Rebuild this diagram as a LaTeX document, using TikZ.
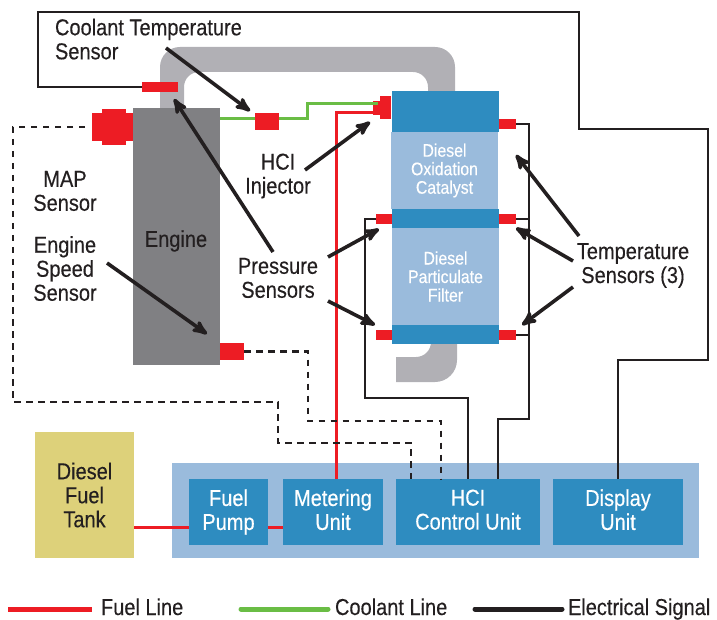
\documentclass[tikz,border=0pt]{standalone}
\usepackage{fontspec}
\setmainfont[FakeStretch=0.87,FakeBold=0.3]{Liberation Sans}
\usepackage{tikz}
\usetikzlibrary{arrows}
\definecolor{sensorred}{HTML}{ED1C24}
\definecolor{coolgreen}{HTML}{6ABD45}
\definecolor{darkblue}{HTML}{2E8CC0}
\definecolor{paleblue}{HTML}{9ABBDC}
\definecolor{pipegray}{HTML}{B1B0B5}
\definecolor{enginegray}{HTML}{808083}
\definecolor{tankyellow}{HTML}{DDD17A}
\definecolor{inkblack}{HTML}{231F20}

\begin{document}
\begin{tikzpicture}[x=1pt,y=-1pt,>=stealth',auto,semithick,text=inkblack]
\tikzstyle{every node}=[font=\fontsize{23}{24}\selectfont,align=center,inner sep=0pt,outer sep=0pt]
\tikzstyle{block}=[fill=darkblue,minimum width=107pt]
\tikzstyle{pale}=[fill=paleblue,minimum width=107pt,text=white,font=\fontsize{18.2}{18.5}\selectfont]
\tikzstyle{unit}=[fill=darkblue,minimum height=66pt,text=white]
\tikzstyle{sensor}=[fill=sensorred,minimum width=17pt,minimum height=10pt]
\tikzstyle{fuel}=[draw=sensorred,line width=3pt]
\tikzstyle{coolant}=[draw=coolgreen,line width=3pt]
\tikzstyle{elec}=[draw=inkblack,line width=2.7pt]
\tikzstyle{signal}=[draw=inkblack,line width=2.7pt,dash pattern=on 6.5pt off 5.5pt]
\tikzstyle{pointer}=[draw=inkblack,line width=3.6pt]
\useasboundingbox (0,0) rectangle (717,620);
% pipe
\fill[pipegray] (160,110) [rounded corners=20pt] -- (160,47) -- (455,47) [sharp corners] -- (455,95) -- (428,95)
   [rounded corners=15pt] -- (428,72) -- (184,72) [sharp corners] -- (184,110) -- cycle;
\fill[pipegray] (431,340) -- (457,340) [rounded corners=22pt] -- (457,382) [sharp corners] -- (396,382) -- (396,357)
   [rounded corners=15pt] -- (431,357) [sharp corners] -- cycle;
% blocks
\node[fill=enginegray,minimum width=87pt,minimum height=257pt] (Engine) at (176.5,236.5) {};
\node at (176,241) {Engine};
\node[block,minimum height=41pt] (DocTop) at (445.5,111.5) {};
\node[pale,minimum height=77pt] (Doc) at (444.5,170.5) {Diesel\\Oxidation\\Catalyst};
\node[block,minimum height=19pt] (DocMid) at (445.5,218.5) {};
\node[pale,minimum height=97pt] (Dpf) at (445.5,276.5) {Diesel\\Particulate\\Filter};
\node[block,minimum height=19pt] (DpfEnd) at (445.5,334.5) {};
\node[fill=tankyellow,minimum width=99pt,minimum height=126pt] (Tank) at (84.5,495) {Diesel\\Fuel\\Tank};
\node[fill=paleblue,minimum width=527pt,minimum height=95pt] (Panel) at (435.5,510.5) {};
\node[unit,minimum width=78.5pt] (Pump) at (228.5,512) {Fuel\\Pump};
\node[unit,minimum width=100pt,right of=Pump,node distance=104.5pt] (Meter) {Metering\\Unit\vphantom{p}};
\node[unit,minimum width=144pt,right of=Meter,node distance=135pt] (Hci) {HCI\\Control Unit\vphantom{p}};
\node[unit,minimum width=130pt,right of=Hci,node distance=150pt] (Display) {Display\\Unit\vphantom{p}};
% sensors
\node[sensor,minimum width=36pt] (SensPress) at (160,87) {};
\node[sensor,minimum width=24pt,minimum height=17pt] (SensCool) at (267,121.5) {};
\node[sensor,minimum width=24pt,minimum height=17pt] (SensSpeed) at (232,351.5) {};
\node[sensor,minimum width=41pt,minimum height=28pt] (SensMap) at (112.5,127) {};
\node[sensor,minimum width=24pt,minimum height=36pt] (SensMapB) at (114,127) {};
\node[sensor,minimum width=7pt,minimum height=14pt] (InjTip) at (376.5,108) {};
\node[sensor,minimum width=11pt,minimum height=23pt] (Inj) at (385.5,107.5) {};
\node[sensor] (TempTop) at (507.5,124) {};
\node[sensor] (TempMid) at (507.5,219) {};
\node[sensor] (TempEnd) at (507.5,335) {};
\node[sensor,minimum width=16pt] (PressMid) at (384,219) {};
\node[sensor,minimum width=16pt] (PressEnd) at (384,335) {};
% labels
\node[anchor=west] (LabCool) at (55,42.5) {\begin{tabular}{@{}l@{}}Coolant Temperature\\Sensor\end{tabular}};
\node (LabMap) at (65,191) {MAP\\Sensor};
\node (LabSpeed) at (65,268.5) {Engine\\Speed\\Sensor};
\node (LabHci) at (278,176) {HCI\\Injector};
\node (LabPress) at (278,278) {Pressure\\Sensors};
\node (LabTemp) at (633,265.5) {Temperature\\Sensors (3)};
% wire corners
\coordinate (MapA) at (85,127);
\coordinate (MapB) at (13,402);
\coordinate (MapC) at (278,443);
\coordinate (MapD) at (411,479);
\coordinate (SpeedA) at (308,421);
\coordinate (SpeedB) at (441,479);
\coordinate (GreenA) at (307,104);
\coordinate (GreenB) at (378,104);
\coordinate (RedA) at (336,479);
\coordinate (RedB) at (336,112.5);
\coordinate (BusL) at (365,398);
\coordinate (BusR) at (529,419);
\coordinate (HciB) at (498,479);
\coordinate (TopA) at (708,129);
\coordinate (TopB) at (579,12);
\coordinate (TopC) at (38,87);
\coordinate (TopD) at (618,360);
% lines
\draw[coolant] (Engine.east |- SensCool.center) ++(0,-2.5) coordinate (GreenS) -- (GreenS -| GreenA) -- (GreenA) -- (GreenB);
\fill[sensorred] (SensCool.north west) rectangle (SensCool.south east);
\draw[fuel] (RedA) -- (RedB) -- (InjTip.west |- RedB);
\draw[fuel] (Tank.east |- 0,527) -- (Pump.west |- 0,527);
\draw[fuel] (Pump.east |- 0,527) -- (Meter.west |- 0,527);
\draw[signal] (SensSpeed.east) -| (SpeedA) -| (SpeedB);
\draw[signal] (MapA) -| (MapB) -| (MapC) -| (MapD);
\draw[elec] (PressMid.west) -| (BusL) -| (Hci.north);
\draw[elec] (TempTop.east) -| (BusR) -| (HciB);
\draw[elec] (TempMid.east) -- (TempMid.east -| BusR);
\draw[elec] (TempEnd.east) -- (TempEnd.east -| BusR);
\draw[elec] (TopD |- Display.north) -- (TopD) -| (TopA) -| (TopB) -| (TopC) -- (SensPress.west |- TopC);
% arrows
\coordinate (TipCool) at (250,111);
\coordinate (TipPress) at (174,99);
\coordinate (TipHci) at (370,122);
\coordinate (TipMid) at (379,229);
\coordinate (TipEnd) at (375,325);
\coordinate (TipSpeed) at (207,334);
\coordinate (TipTempA) at (516,155);
\coordinate (TipTempB) at (516,228);
\coordinate (TipTempC) at (522,325);
\path[pointer] (166,48) coordinate (TailCool) edge[->] (TipCool)
   (273,252) coordinate (TailPress) edge[->] (TipPress)
   (305,170) coordinate (TailHci) edge[->] (TipHci)
   (328,257) coordinate (TailMid) edge[->] (TipMid)
   (328,301) coordinate (TailEnd) edge[->] (TipEnd)
   (107,263) coordinate (TailSpeed) edge[->] (TipSpeed)
   (579,236) coordinate (TailTempA) edge[->] (TipTempA)
   (573,261) coordinate (TailTempB) edge[->] (TipTempB)
   (573,287) coordinate (TailTempC) edge[->] (TipTempC);
% key
\coordinate (KeyFuelA) at (8,609);
\coordinate (KeyFuelB) at (92,609);
\coordinate (KeyCoolA) at (241,609);
\coordinate (KeyCoolB) at (328,609);
\coordinate (KeyElecA) at (475,609);
\coordinate (KeyElecB) at (562,609);
\draw[draw=sensorred,line width=5pt] (KeyFuelA) -- (KeyFuelB);
\draw[draw=coolgreen,line width=5pt,line cap=round] (KeyCoolA) -- (KeyCoolB);
\draw[draw=inkblack,line width=5pt,line cap=round] (KeyElecA) -- (KeyElecB);
\node[anchor=base west] (TxtFuel) at (101,615) {Fuel Line};
\node[anchor=base west] (TxtCool) at (335,615) {Coolant Line};
\node[anchor=base west] (TxtElec) at (568,615) {Electrical Signal};
\end{tikzpicture}
\end{document}
